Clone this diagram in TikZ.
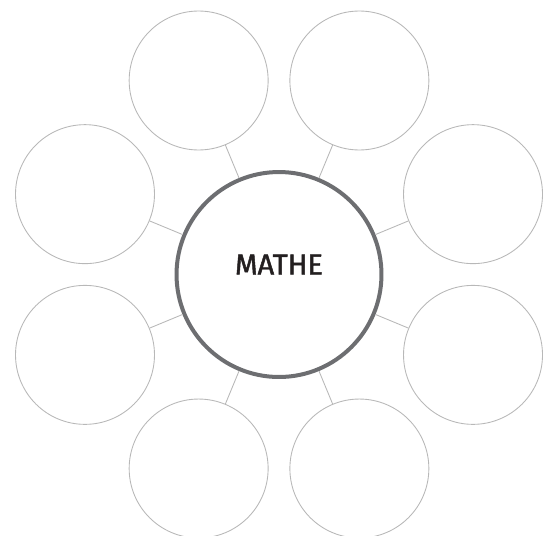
\documentclass[tikz,border=0pt]{standalone}
\usepackage{fontspec}
\newfontfamily\hubfont{Fira Sans}[FakeBold=1.6]
\usetikzlibrary{calc}
\definecolor{leafgray}{RGB}{184,184,184}
\definecolor{hubgray}{RGB}{109,110,113}
\definecolor{inkblack}{RGB}{35,31,32}

\begin{document}
\begin{tikzpicture}[x=0.02cm,y=0.02cm,
  hub/.style={circle,draw=hubgray,line width=0.08cm,inner sep=0pt,minimum size=4.1cm,
    text depth=0.4cm,font=\hubfont\fontsize{16.5}{18}\selectfont,text=inkblack},
  leaf/.style={circle,draw=leafgray,line width=0.5pt,inner sep=0pt,minimum size=2.78cm},
  spoke/.style={draw=leafgray,line width=0.5pt}]
\useasboundingbox (0,0) rectangle (543,-535);
\node[hub] (mathe) at (279,-274.5) {MATHE};
\node[leaf] (topleft) at ($(mathe)+(112.5:210)$) {};
\node[leaf] (topright) at ($(mathe)+(67.5:210)$) {};
\node[leaf] (rightup) at ($(mathe)+(22.5:210)$) {};
\node[leaf] (rightdown) at ($(mathe)+(-22.5:210)$) {};
\node[leaf] (botright) at ($(mathe)+(-67.5:210)$) {};
\node[leaf] (botleft) at ($(mathe)+(-112.5:210)$) {};
\node[leaf] (leftdown) at ($(mathe)+(-157.5:210)$) {};
\node[leaf] (leftup) at ($(mathe)+(157.5:210)$) {};
\draw[spoke] (mathe) -- (topleft);
\draw[spoke] (mathe) -- (topright);
\draw[spoke] (mathe) -- (rightup);
\draw[spoke] (mathe) -- (rightdown);
\draw[spoke] (mathe) -- (botright);
\draw[spoke] (mathe) -- (botleft);
\draw[spoke] (mathe) -- (leftdown);
\draw[spoke] (mathe) -- (leftup);
\end{tikzpicture}
\end{document}
